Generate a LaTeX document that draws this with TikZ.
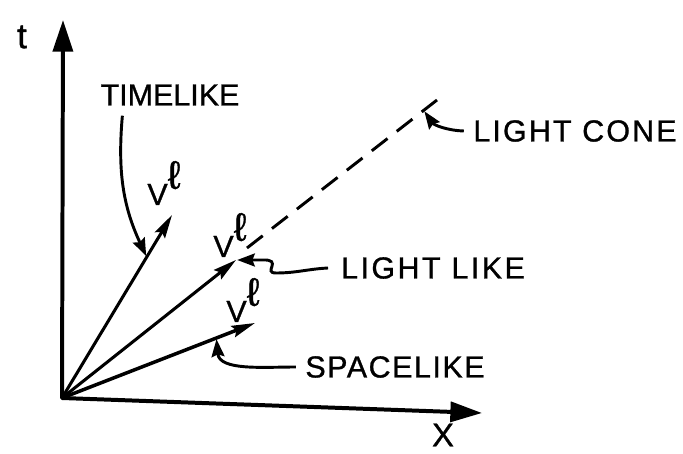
\documentclass[tikz,border=0pt]{standalone}
\usepackage{fontspec}
\setmainfont[FakeBold=0.9]{Liberation Sans}
\usepackage{tikz}
\usetikzlibrary{arrows.meta, calc}

\newcommand{\Vell}{V\raisebox{1ex}{\fontsize{34}{34}\selectfont ℓ}}

\begin{document}
\begin{tikzpicture}[
        x=0.03cm, y=0.03cm,
        axis/.style={line width=3.4pt, line join=round, {Triangle[length=27pt, width=17pt]}-{Triangle[length=27pt, width=17pt]}},
        vec/.style={line width=2.6pt, -{Stealth[length=20pt, width=10pt, inset=3pt]}},
        pointer/.style={line width=2.5pt, -{Stealth[length=15pt, width=11pt, inset=2pt]}, shorten >=1pt},
        cone/.style={line width=2.5pt, dash pattern=on 17pt off 10pt},
        lbl/.style={inner sep=0pt, font=\fontsize{26}{30}\selectfont},
        term/.style={inner sep=0pt, font=\fontsize{26}{30}\selectfont\addfontfeature{LetterSpace=#1}},
        term/.default=0,
    ]
    \useasboundingbox (0,0) rectangle (683,453);

    % ---- Axes ----
    \coordinate (O) at (62,55);
    \coordinate (ttip) at (63,433);
    \coordinate (xtip) at (482,40);
    \draw[axis] (ttip) -- (O) -- (xtip);
    \node[lbl, font=\fontsize{30}{34}\selectfont] (tlab) at (22,416) {t};
    \node[lbl, font=\fontsize{28}{32}\selectfont] (xlab) at (443,18) {X};

    % ---- Vectors ----
    \coordinate (tl) at (172,238);
    \coordinate (ll) at (236,193);
    \coordinate (sl) at (255,130);
    \draw[vec] (O) -- (tl);
    \draw[vec] (O) -- (ll);
    \draw[vec, line width=3pt] (O) -- (sl);

    \node[lbl] (tlv) at (164,270) {\Vell};
    \node[lbl] (llv) at (230,218) {\Vell};
    \node[lbl] (slv) at (243,153) {\Vell};

    % ---- Light cone ----
    \coordinate (cone0) at (247,205);
    \coordinate (cone1) at (437,353);
    \draw[cone] (cone0) -- (cone1);

    % ---- Names ----
    \node[term] (timelike) at (170,358) {TIMELIKE};
    \node[term=7] (lightcone) at (575,322) {LIGHT CONE};
    \node[term=8] (lightlike) at (433,185) {LIGHT LIKE};
    \node[term=5] (spacelike) at (395,86) {SPACELIKE};

    % ---- Pointers ----
    \coordinate (tlhit) at ($(O)!0.77!(tl)$);
    \coordinate (conehit) at ($(cone0)!0.93!(cone1)$);
    \coordinate (slhit) at ($(O)!0.8!(sl)$);
    \draw[pointer] ([shift={(22,-10)}]timelike.south west) to[out=-95, in=115] (tlhit);
    \draw[pointer] ([xshift=-8pt]lightcone.west) to[out=178, in=-55] (conehit);
    \draw[pointer] ([xshift=-11pt]lightlike.west) to[out=183, in=0] (276,180)
        .. controls (262,180) and (284,194) .. (262,193) -- (ll);
    \draw[pointer] ([xshift=-8pt]spacelike.west) to[out=180, in=-85] (slhit);
\end{tikzpicture}
\end{document}
